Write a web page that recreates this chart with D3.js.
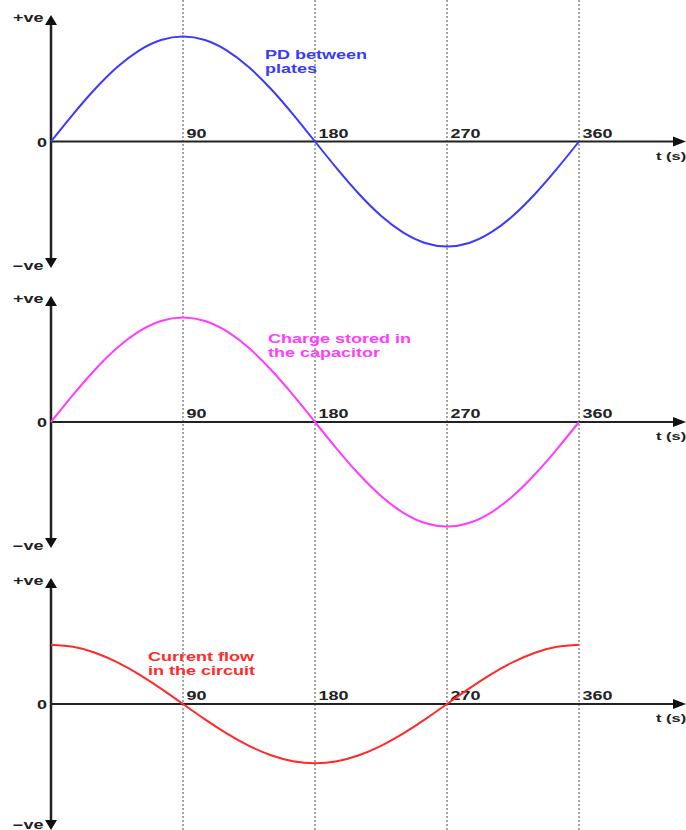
<!DOCTYPE html>
<html><head><meta charset="utf-8">
<script src="https://cdn.jsdelivr.net/npm/d3@7"></script>
<style>html,body{margin:0;padding:0;background:#fff}svg{display:block}</style>
</head><body>
<svg id="c" width="686" height="830"></svg>
<script>
// Data (angles in degrees, relative to axis arrow = 1)
const angles = [0,15,30,45,60,75,90,105,120,135,150,165,180,195,210,225,240,255,270,285,300,315,330,345,360];
const pdValues = [0,0.215,0.415,0.587,0.719,0.802,0.83,0.802,0.719,0.587,0.415,0.215,0,-0.215,-0.415,-0.587,-0.719,-0.802,-0.83,-0.802,-0.719,-0.587,-0.415,-0.215,0];
const chargeValues = [0,0.215,0.415,0.587,0.719,0.802,0.83,0.802,0.719,0.587,0.415,0.215,0,-0.215,-0.415,-0.587,-0.719,-0.802,-0.83,-0.802,-0.719,-0.587,-0.415,-0.215,0];
const currentValues = [0.47,0.454,0.407,0.332,0.235,0.122,0,-0.122,-0.235,-0.332,-0.407,-0.454,-0.47,-0.454,-0.407,-0.332,-0.235,-0.122,0,0.122,0.235,0.332,0.407,0.454,0.47];
const tickValues = [90,180,270,360];
const tickLabels = ["90","180","270","360"];
const seriesLabels = [["PD between","plates"],["Charge stored in","the capacitor"],["Current flow","in the circuit"]];
const seriesColors = ["#3a3aff","#ff3cff","#ff2a2a"];

const svg = d3.select("#c");
const W = 686, H = 830;
const x = d3.scaleLinear().domain([0,360]).range([51,579]);
const panels = [
  {top:15, zero:141, bottom:268, values:pdValues, labelX:265, labelY:59},
  {top:296, zero:422, bottom:548, values:chargeValues, labelX:268, labelY:343},
  {top:578, zero:704, bottom:830, values:currentValues, labelX:148, labelY:661}
];

// dotted vertical guides
svg.append("g").selectAll("line").data(tickValues).join("line")
  .attr("x1",d=>x(d)).attr("x2",d=>x(d)).attr("y1",0).attr("y2",H)
  .attr("stroke","#888").attr("stroke-width",1.5).attr("stroke-dasharray","2,2");

function stretchedText(g, txt, tx, ty, opts){
  return g.append("text")
    .attr("transform",`translate(${tx},${ty}) scale(1.5,1)`)
    .attr("font-family","Liberation Sans, Arial, sans-serif")
    .attr("font-weight","bold")
    .attr("font-size",opts.size||12)
    .attr("fill",opts.fill||"#222")
    .attr("text-anchor",opts.anchor||"start")
    .text(txt);
}

panels.forEach((p,i)=>{
  const y = d3.scaleLinear().domain([-1,1]).range([p.bottom,p.top]);
  const g = svg.append("g");
  // tick labels via d3 axis
  const ax = d3.axisTop(x).tickValues(tickValues).tickSize(0).tickPadding(4)
    .tickFormat((d,j)=>tickLabels[j]);
  const axg = g.append("g").attr("transform",`translate(0,${y(0)})`).call(ax);
  axg.select(".domain").remove();
  axg.selectAll("text")
    .attr("font-family","Liberation Sans, Arial, sans-serif")
    .attr("font-weight","bold").attr("font-size",12).attr("fill","#222")
    .attr("text-anchor","start").attr("x",2)
    .style("transform","scaleX(1.5)").style("transform-origin","0 0");
  // x axis line
  g.append("line").attr("x1",x(0)).attr("x2",676).attr("y1",y(0)).attr("y2",y(0))
    .attr("stroke","#222").attr("stroke-width",2);
  g.append("path").attr("d",`M${673},${y(0)-5} L${686},${y(0)} L${673},${y(0)+5} Z`).attr("fill","#111");
  // y axis
  g.append("line").attr("x1",x(0)).attr("x2",x(0)).attr("y1",p.top+6).attr("y2",p.bottom-6)
    .attr("stroke","#222").attr("stroke-width",2.5);
  g.append("path").attr("d",`M${x(0)-6},${p.top+10} L${x(0)},${p.top} L${x(0)+6},${p.top+10} Z`).attr("fill","#111");
  g.append("path").attr("d",`M${x(0)-6},${p.bottom-10} L${x(0)},${p.bottom} L${x(0)+6},${p.bottom-10} Z`).attr("fill","#111");
  // axis labels
  stretchedText(g,"+ve",13,p.top+7,{});
  stretchedText(g,"\u2212ve",13,Math.min(p.bottom+2,829),{});
  stretchedText(g,"0",37,y(0)+5,{});
  stretchedText(g,"t (s)",656,y(0)+18,{size:11});
  // curve
  const line = d3.line().x((d,j)=>x(angles[j])).y(d=>y(d)).curve(d3.curveNatural);
  g.append("path").datum(p.values).attr("d",line)
    .attr("fill","none").attr("stroke",seriesColors[i]).attr("stroke-width",2);
  // series label
  seriesLabels[i].forEach((s,k)=>{
    stretchedText(g,s,p.labelX,p.labelY+k*14,{fill:seriesColors[i]});
  });
});
</script>
</body></html>
